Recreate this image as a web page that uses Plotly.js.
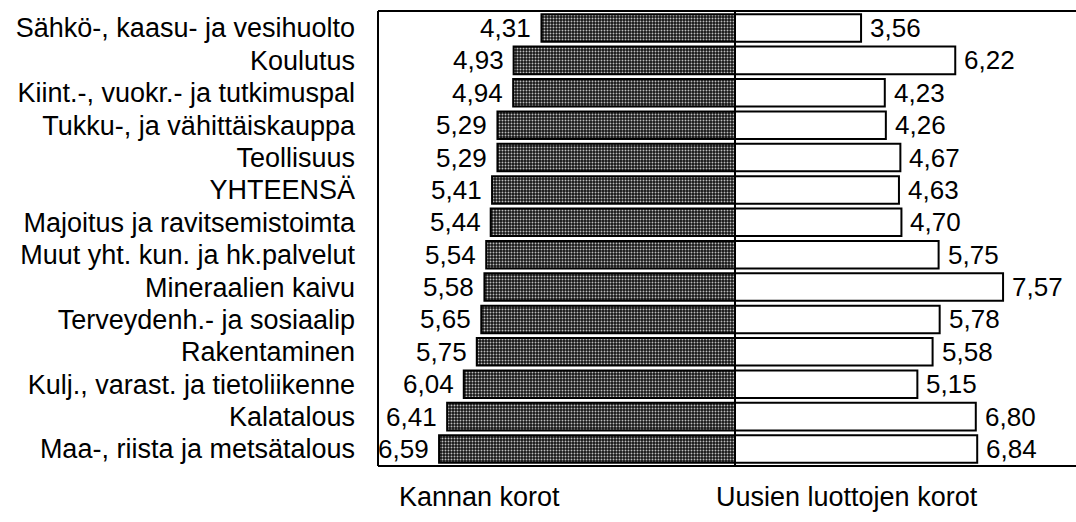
<!DOCTYPE html>
<html>
<head>
<meta charset="utf-8">
<script src="https://cdn.plot.ly/plotly-3.0.1.min.js"></script>
<style>html,body{margin:0;padding:0;background:#fff;}</style>
</head>
<body>
<div id="chart" style="width:1076px;height:522px;"></div>
<script>
const categories = [
  "Sähkö-, kaasu- ja vesihuolto",
  "Koulutus",
  "Kiint.-, vuokr.- ja tutkimuspal",
  "Tukku-, ja vähittäiskauppa",
  "Teollisuus",
  "YHTEENSÄ",
  "Majoitus ja ravitsemistoimta",
  "Muut yht. kun. ja hk.palvelut",
  "Mineraalien kaivu",
  "Terveydenh.- ja sosiaalip",
  "Rakentaminen",
  "Kulj., varast. ja tietoliikenne",
  "Kalatalous",
  "Maa-, riista ja metsätalous"
];
const kannanKorot = [4.31, 4.93, 4.94, 5.29, 5.29, 5.41, 5.44, 5.54, 5.58, 5.65, 5.75, 6.04, 6.41, 6.59];
const uusienKorot = [3.56, 6.22, 4.23, 4.26, 4.67, 4.63, 4.70, 5.75, 7.57, 5.78, 5.58, 5.15, 6.80, 6.84];
const seriesNames = ["Kannan korot", "Uusien luottojen korot"];

const fmt = v => v.toFixed(2).replace('.', ',');
const FONT = "Liberation Sans, Arial, sans-serif";

const traces = [
  {
    type: 'bar', orientation: 'h', name: seriesNames[0],
    y: categories, x: kannanKorot, xaxis: 'x', yaxis: 'y',
    width: 0.85,
    marker: {
      color: '#141414',
      line: {color: '#000', width: 2},
      pattern: {shape: '.', bgcolor: '#141414', fgcolor: '#bdbdbd', size: 3, solidity: 0.32, fillmode: 'replace'}
    },
    hoverinfo: 'none'
  },
  {
    type: 'bar', orientation: 'h', name: seriesNames[1],
    y: categories, x: uusienKorot, xaxis: 'x2', yaxis: 'y',
    width: 0.85,
    marker: {color: '#fff', line: {color: '#000', width: 2}},
    hoverinfo: 'none'
  }
];

const annotations = [];
categories.forEach((c, i) => {
  annotations.push({
    xref: 'x', yref: 'y', x: kannanKorot[i], y: c, text: fmt(kannanKorot[i]),
    xanchor: 'right', yanchor: 'middle', xshift: -8, showarrow: false,
    font: {family: FONT, size: 26, color: '#000'}
  });
  annotations.push({
    xref: 'x2', yref: 'y', x: uusienKorot[i], y: c, text: fmt(uusienKorot[i]),
    xanchor: 'left', yanchor: 'middle', xshift: 7, showarrow: false,
    font: {family: FONT, size: 26, color: '#000'}
  });
});
annotations.push({
  xref: 'paper', yref: 'paper', x: (479 - 378) / 698, y: -0.068, yanchor: 'middle', xanchor: 'center',
  text: seriesNames[0], showarrow: false, font: {family: FONT, size: 27, color: '#000'}
});
annotations.push({
  xref: 'paper', yref: 'paper', x: (847 - 378) / 698, y: -0.068, yanchor: 'middle', xanchor: 'center',
  text: seriesNames[1], showarrow: false, font: {family: FONT, size: 27, color: '#000'}
});

const split = (735 - 378) / 698;
const layout = {
  width: 1076, height: 522,
  margin: {l: 378, r: 0, t: 11, b: 56, pad: 0},
  paper_bgcolor: '#fff', plot_bgcolor: '#fff',
  showlegend: false,
  barmode: 'overlay',
  separators: ', ',
  xaxis: {domain: [0, split], range: [7.95, 0], visible: false, fixedrange: true},
  xaxis2: {domain: [split, 1], range: [0, 9.63], visible: false, fixedrange: true},
  yaxis: {
    type: 'category', categoryorder: 'array', categoryarray: categories,
    autorange: 'reversed', showgrid: false, zeroline: false, showline: false,
    ticks: '', ticklabelstandoff: 22,
    tickfont: {family: FONT, size: 27, color: '#000'}
  },
  annotations: annotations,
  shapes: [
    {type: 'line', xref: 'paper', yref: 'paper', x0: 0, x1: 1, y0: 1, y1: 1, line: {color: '#000', width: 2}},
    {type: 'line', xref: 'paper', yref: 'paper', x0: 0, x1: 1, y0: 0, y1: 0, line: {color: '#000', width: 2}},
    {type: 'line', xref: 'paper', yref: 'paper', x0: 0, x1: 0, y0: 0, y1: 1, line: {color: '#000', width: 2}},
    {type: 'line', xref: 'paper', yref: 'paper', x0: split, x1: split, y0: 0, y1: 1, line: {color: '#000', width: 2}}
  ]
};

Plotly.newPlot('chart', traces, layout, {staticPlot: true, displayModeBar: false});
</script>
</body>
</html>
